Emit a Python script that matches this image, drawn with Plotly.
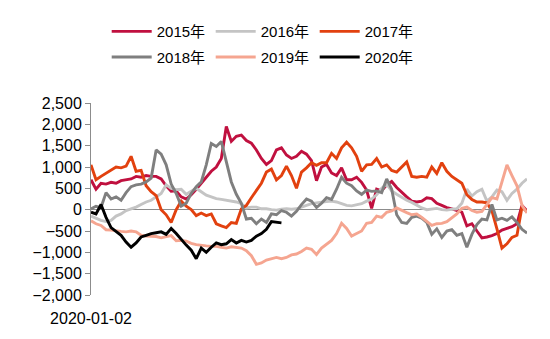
import plotly.graph_objects as go

# Year-over-year spread series, sampled on a common trading-day index
years = ["2015年", "2016年", "2017年", "2018年", "2019年", "2020年"]
colors = ["#C0103F", "#C4C4C4", "#E2410F", "#7F7F7F", "#F5A590", "#000000"]

s2015 = [700, 480, 620, 600, 640, 620, 680, 700, 720, 780, 760, 800, 780, 780, 720, 560,
         430, 440, 300, 250, 350, 480, 620, 780, 900, 1000, 1200, 1950, 1600, 1720, 1750,
         1620, 1560, 1400, 1200, 1060, 1150, 1400, 1450, 1280, 1200, 1250, 1370, 1300, 1150,
         680, 1000, 1060, 860, 800, 980, 700, 700, 760, 640, 460, 30, 480, 440, 580, 660,
         520, 400, 300, 200, 180, 200, 280, 260, 150, 100, 50, 20, -20, -60, -380, -330,
         -500, -660, -640, -610, -560, -480, -440, -400, -330, 100, -30]

s2016 = [-150, -200, -250, -280, -250, -150, -100, -20, 20, 60, 120, 180, 220, 300, 380,
         580, 500, 470, 480, 360, 430, 500, 420, 340, 300, 260, 240, 220, 200, 180, 140, 40,
         60, 60, 20, 20, 0, -10, 10, 20, 10, 20, 60, 100, 140, 160, 180, 190, 200, 180, 140,
         100, 90, 110, 140, 200, 250, 350, 500, 600, 440, 360, 280, 220, 170, 100, 40, 0, 20,
         30, 0, -10, 10, 20, 150, 480, 320, 420, 480, 200, 300, 460, 420, 220, 380, 480, 620,
         720]

s2017 = [1050, 700, 780, 860, 920, 1000, 980, 1020, 1250, 900, 920, 560, 420, 330, 0, -120,
         -300, 0, 200, 80, 0, -140, -80, -140, -100, -330, -380, -420, -300, -320, 20, 100,
         280, 460, 620, 880, 950, 700, 800, 1020, 800, 500, 880, 980, 1100, 1040, 1100, 1100,
         1320, 1200, 1450, 1580, 1450, 1250, 900, 1050, 1060, 1200, 1000, 1050, 920, 880,
         1000, 1120, 780, 760, 780, 760, 1000, 850, 1100, 900, 780, 700, 620, 350, 240, 180,
         180, 160, -30, -450, -900, -800, -650, -600, 60, -50]

s2018 = [20, 80, 50, 400, 250, 300, 220, 400, 540, 580, 600, 650, 740, 1400, 1300, 1050,
         600, 380, 80, 150, 380, 540, 650, 1050, 1550, 1480, 1600, 1100, 650, 360, 150, -220,
         -200, -330, -220, -300, -100, -120, -20, -60, -150, -40, 120, 250, 200, 50, 150, 280,
         240, 480, 760, 620, 560, 440, 360, 460, 430, 440, 400, 720, 480, -120, -300, -320,
         -180, -150, -200, -300, -580, -450, -650, -500, -470, -600, -560, -880, -580, -350,
         -220, -240, 120, -240, -200, -250, -170, -300, -460, -550]

s2019 = [-260, -330, -370, -470, -480, -500, -510, -520, -500, -520, -600, -620, -620, -630,
         -660, -640, -610, -730, -720, -740, -790, -820, -840, -850, -860, -860, -880, -900,
         -870, -880, -900, -960, -1080, -1280, -1250, -1180, -1150, -1120, -1150, -1120,
         -1060, -1040, -980, -900, -930, -1050, -900, -820, -720, -560, -320, -440, -620,
         -560, -500, -320, -300, -150, -180, -60, -30, 40, -20, -70, -120, -100, -180, -280,
         -370, -330, -320, -280, -200, -100, 30, 60, -20, -60, -40, 120, 280, 250, 650, 1050,
         800, 560, 100, -80]

s2020 = [-60, -100, 120, -180, -420, -520, -600, -760, -880, -780, -640, -600, -560, -540,
         -520, -580, -440, -560, -700, -830, -950, -1150, -900, -1000, -880, -780, -820, -800,
         -700, -780, -720, -760, -720, -620, -560, -460, -280, -300, -310]

series = [s2015, s2016, s2017, s2018, s2019, s2020]

y_ticks = [-2000, -1500, -1000, -500, 0, 500, 1000, 1500, 2000, 2500]
x_tick_label = "2020-01-02"

FONT = "Arial, 'Liberation Sans', 'Noto Sans CJK SC', sans-serif"

fig = go.Figure()
for k, (name, color, vals) in enumerate(zip(years, colors, series)):
    fig.add_trace(go.Scatter(
        x=list(range(len(vals))),
        y=vals,
        mode="lines",
        name=name,
        line=dict(color=color, width=2.9),
        legend="legend" if k < 3 else "legend2",
    ))

legend_common = dict(
    orientation="h",
    xanchor="left",
    yanchor="middle",
    font=dict(family=FONT, size=15, color="#000000"),
    bgcolor="rgba(0,0,0,0)",
    entrywidth=49,
    itemwidth=40,
    tracegroupgap=0,
)

fig.update_layout(
    width=550,
    height=339,
    margin=dict(l=91, r=23, t=103, b=42),
    paper_bgcolor="white",
    plot_bgcolor="white",
    font=dict(family=FONT, size=15, color="#000000"),
    showlegend=True,
    legend=dict(x=0.036, y=1.372, **legend_common),
    legend2=dict(x=0.036, y=1.238, **legend_common),
    xaxis=dict(
        range=[0, len(s2015) - 1],
        tickvals=[0],
        ticktext=[x_tick_label],
        showgrid=False,
        zeroline=False,
        showline=False,
        ticks="",
        ticklabelstandoff=12,
        tickfont=dict(family=FONT, size=16, color="#000000"),
    ),
    yaxis=dict(
        range=[-2000, 2500],
        tickvals=y_ticks,
        tickformat=",d",
        showgrid=False,
        zeroline=True,
        zerolinecolor="#8C8C8C",
        zerolinewidth=1,
        showline=True,
        linecolor="#8C8C8C",
        linewidth=1,
        ticks="outside",
        ticklen=5,
        tickcolor="#8C8C8C",
        tickfont=dict(family=FONT, size=16, color="#000000"),
    ),
)

fig.write_html("out.html")
